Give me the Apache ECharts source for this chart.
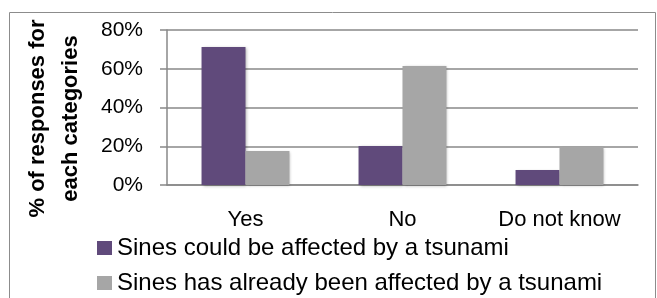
<!DOCTYPE html>
<html>
<head>
<meta charset="utf-8">
<script src="https://cdn.jsdelivr.net/npm/echarts@6/dist/echarts.min.js"></script>
<style>
  html, body { margin: 0; padding: 0; background: #fff; }
  #chart { width: 657px; height: 298px; }
</style>
</head>
<body>
<div id="chart"></div>
<script>
// -------------------- data --------------------
const categories = ['Yes', 'No', 'Do not know']
const couldBeAffected = [0.712, 0.201, 0.078]
const alreadyAffected = [0.176, 0.614, 0.197]
const yTicks = [0, 0.2, 0.4, 0.6, 0.8]

const FONT = '"Liberation Sans", sans-serif'

const chart = echarts.init(document.getElementById('chart'))

chart.setOption({
  animation: false,
  textStyle: { fontFamily: FONT },
  graphic: [
    {
      type: 'rect',
      shape: { x: 9.5, y: 12.5, width: 646, height: 300 },
      style: { fill: 'none', stroke: '#8c8c8c', lineWidth: 1 },
      silent: true
    }
  ],
  grid: { left: 167, right: 19, top: 30, bottom: 113, containLabel: false, outerBoundsMode: 'none' },
  legend: {
    orient: 'vertical',
    left: 92,
    top: 235,
    padding: [0, 5, 0, 5],
    itemWidth: 15,
    itemHeight: 14,
    itemGap: 9,
    icon: 'rect',
    textStyle: { fontSize: 24, lineHeight: 26, color: '#000', fontFamily: FONT },
    data: ['Sines could be affected by a tsunami', 'Sines has already been affected by a tsunami']
  },
  xAxis: {
    type: 'category',
    data: categories,
    axisLine: { show: true, lineStyle: { color: '#888', width: 1.5 } },
    axisTick: { show: false },
    axisLabel: { interval: 0, fontSize: 22, color: '#000', margin: 24, fontFamily: FONT }
  },
  yAxis: {
    type: 'value',
    min: yTicks[0],
    max: yTicks[yTicks.length - 1],
    interval: 0.2,
    name: '% of responses for\neach categories',
    nameLocation: 'middle',
    nameGap: 80,
    nameTextStyle: {
      fontSize: 22,
      fontWeight: 'bold',
      color: '#000',
      lineHeight: 33,
      padding: [0, 22, 0, 0],
      fontFamily: FONT
    },
    axisLine: { show: true, lineStyle: { color: '#888', width: 1.5 } },
    axisTick: { show: true, length: 7, lineStyle: { color: '#888', width: 1.5 } },
    axisLabel: {
      fontSize: 21,
      color: '#000',
      margin: 24,
      fontFamily: FONT,
      formatter: v => Math.round(v * 100) + '%'
    },
    splitLine: { show: true, lineStyle: { color: '#888', width: 1.5 } }
  },
  series: [
    {
      name: 'Sines could be affected by a tsunami',
      type: 'bar',
      data: couldBeAffected,
      barGap: '0%',
      barCategoryGap: '44%',
      itemStyle: { color: '#604a7b', shadowBlur: 3, shadowColor: 'rgba(0,0,0,0.3)', shadowOffsetX: 1, shadowOffsetY: 1 }
    },
    {
      name: 'Sines has already been affected by a tsunami',
      type: 'bar',
      data: alreadyAffected,
      itemStyle: { color: '#a6a6a6', shadowBlur: 3, shadowColor: 'rgba(0,0,0,0.3)', shadowOffsetX: 1, shadowOffsetY: 1 }
    }
  ]
})
</script>
</body>
</html>
